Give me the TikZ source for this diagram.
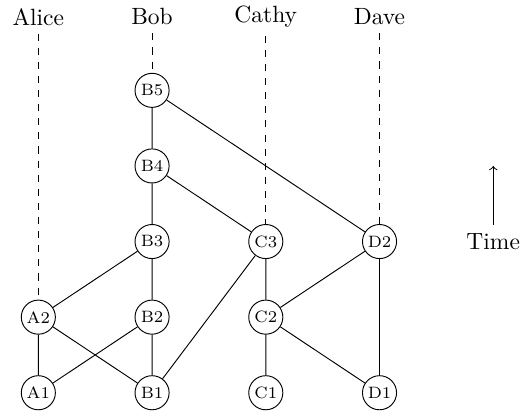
\documentclass[tikz,border=0pt]{standalone}
\usepackage{tikz}
\tikzset{event/.style={draw,circle,minimum size=14.5pt,inner sep=1pt,font=\scriptsize},
procname/.style={inner sep=3.33pt}}

\begin{document}
\begin{tikzpicture}[x=1.7cm,y=1.13cm]
\useasboundingbox (-0.337,-0.321) rectangle (4.332,5.195);
\node[procname] (alice) at (0,4.973){Alice};
\node[procname] (bob) at (1,4.973){Bob};
\node[procname] (cathy) at (2,4.973){Cathy};
\node[procname] (dave) at (3,4.973){Dave};
\node[event] (a1) at (0,0){A1};
\node[event] (a2) at (0,1){A2};
\node[event] (b1) at (1,0){B1};
\node[event] (b2) at (1,1){B2};
\node[event] (b3) at (1,2){B3};
\node[event] (b4) at (1,3){B4};
\node[event] (b5) at (1,4){B5};
\node[event] (c1) at (2,0){C1};
\node[event] (c2) at (2,1){C2};
\node[event] (c3) at (2,2){C3};
\node[event] (d1) at (3,0){D1};
\node[event] (d2) at (3,2){D2};
\draw[dashed] (alice.south) -- (a2.north) (bob.south) -- (b5.north) (cathy.south) -- (c3.north) (dave.south) -- (d2.north);
\draw (a1) -- (a2) (a1) -- (b2) (a2) -- (b1) (a2) -- (b3);
\draw (b1) -- (b2) (b2) -- (b3) (b3) -- (b4) (b4) -- (b5) (b1) -- (c3) (b4) -- (c3) (b5) -- (d2);
\draw (c1) -- (c2) (c2) -- (c3) (c2) -- (d2) (c2) -- (d1) (d1) -- (d2);
\node (time) at (4,2){Time};
\coordinate (top) at (4,3);
\draw[->] (time.north) -- (top);
\end{tikzpicture}
\end{document}
